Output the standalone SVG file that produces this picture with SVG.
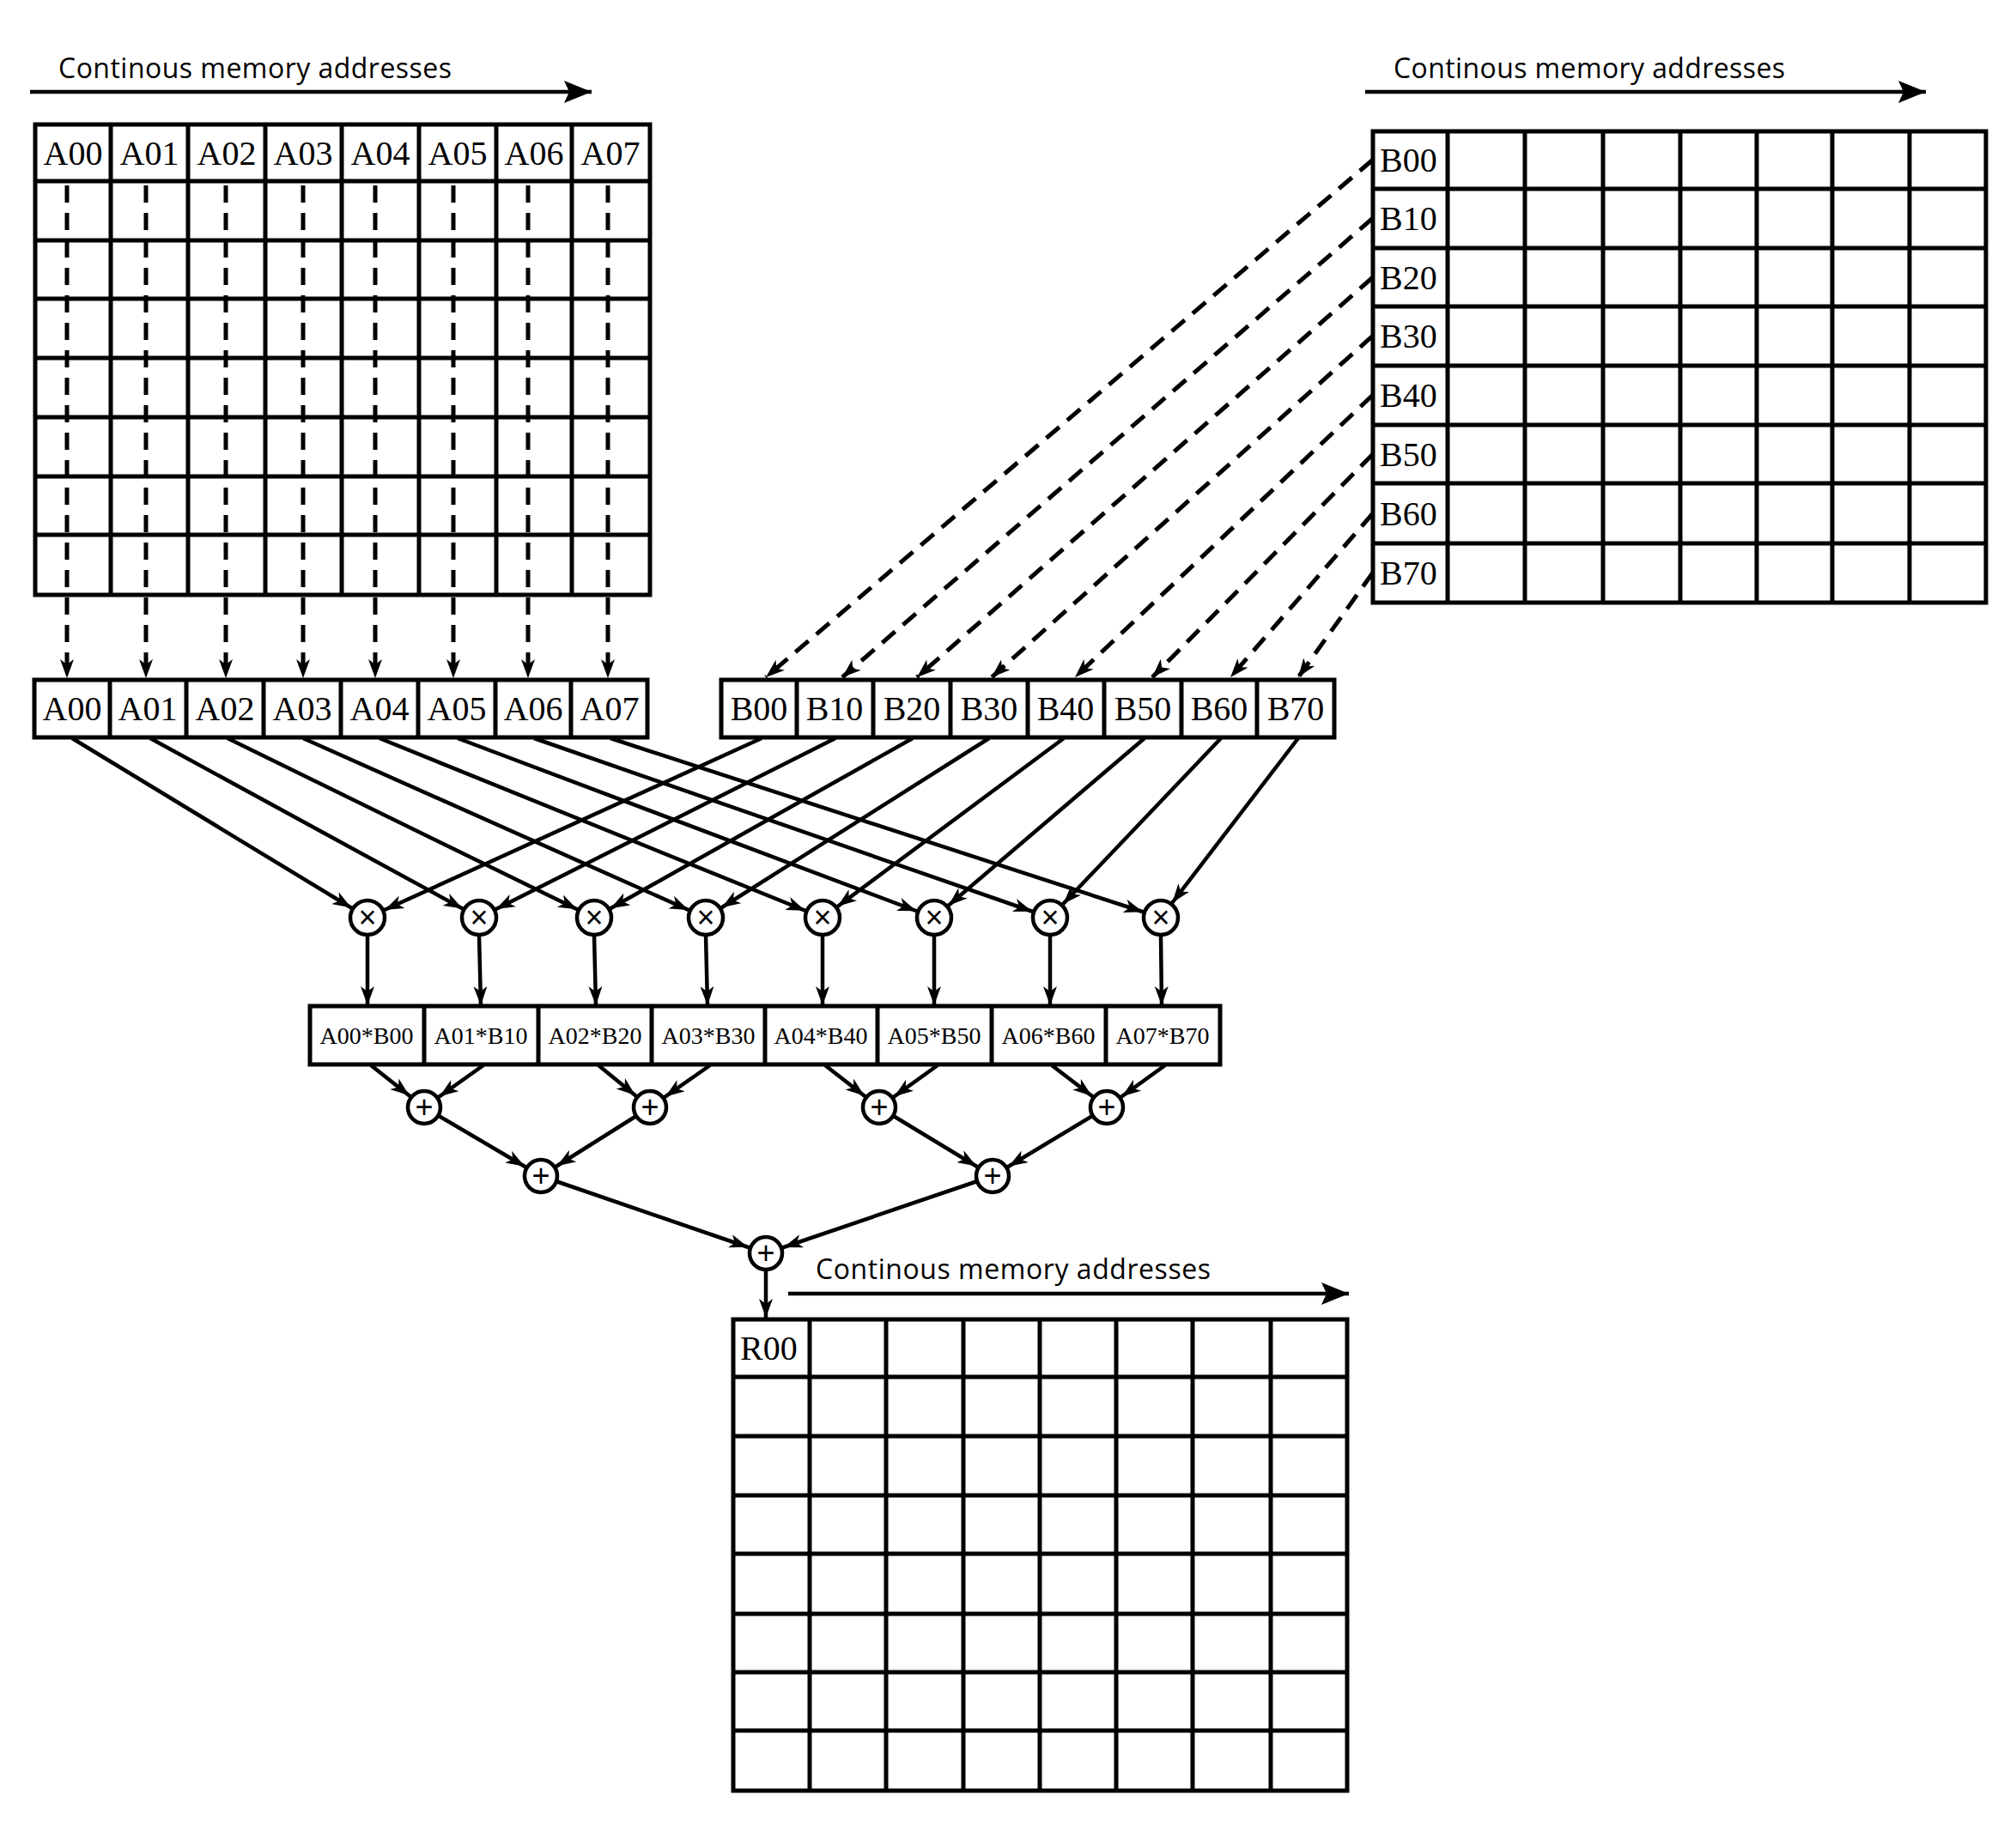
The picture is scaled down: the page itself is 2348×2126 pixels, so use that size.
<svg xmlns="http://www.w3.org/2000/svg" width="2348" height="2126" viewBox="0 0 2348 2126">
<style>
.g{fill:none;stroke:#000;stroke-width:5}
.c{fill:none;stroke:#000;stroke-width:4.5}
.d{fill:none;stroke:#000;stroke-width:5;stroke-dasharray:20 12}
.t{font-family:"Liberation Serif",serif;font-size:40px;fill:#000}
.p{font-family:"Liberation Serif",serif;font-size:28px;fill:#000;text-anchor:middle}
.h{font-family:"Open Sans","Liberation Sans",sans-serif;font-size:32px;fill:#000}
.o{fill:#fff;stroke:#000;stroke-width:4.5}
.s{font-family:"Liberation Sans",sans-serif;font-size:36px;text-anchor:middle;fill:#000}
</style>
<defs>
<marker id="arr" markerUnits="userSpaceOnUse" viewBox="0 0 22 16" markerWidth="22" markerHeight="16" refX="22" refY="8" orient="auto"><path d="M0,0 L22,8 L0,16 L6,8 Z" fill="#000"/></marker>
<marker id="arrC" markerUnits="userSpaceOnUse" viewBox="0 0 44 16" markerWidth="44" markerHeight="16" refX="44" refY="8" orient="auto"><path d="M0,0 L22,8 L0,16 L6,8 Z" fill="#000"/></marker>
<marker id="big" markerUnits="userSpaceOnUse" viewBox="0 0 32 26" markerWidth="32" markerHeight="26" refX="32" refY="13" orient="auto"><path d="M0,0 L32,13 L0,26 L6,13 Z" fill="#000"/></marker>
</defs>

<g id="title-a"><text class="h" x="68" y="91" textLength="458">Continous memory addresses</text><line class="c" x1="35" y1="107" x2="689" y2="107" marker-end="url(#big)"/></g>
<g id="title-b"><text class="h" x="1623" y="91" textLength="456">Continous memory addresses</text><line class="c" x1="1590" y1="107" x2="2243" y2="107" marker-end="url(#big)"/></g>
<g id="title-r"><text class="h" x="950" y="1490" textLength="460">Continous memory addresses</text><line class="c" x1="918" y1="1507" x2="1571" y2="1507" marker-end="url(#big)"/></g>

<g id="matrix-a">
<rect class="g" x="41" y="145" width="716" height="548"/>
<path class="g" d="M129,145V693M219,145V693M309,145V693M398,145V693M488,145V693M578,145V693M666,145V693M41,211H757M41,280H757M41,348H757M41,417H757M41,486H757M41,555H757M41,623H757"/>
<g class="t" text-anchor="middle"><text x="85" y="192">A00</text><text x="174" y="192">A01</text><text x="264" y="192">A02</text><text x="353" y="192">A03</text><text x="443" y="192">A04</text><text x="533" y="192">A05</text><text x="622" y="192">A06</text><text x="711" y="192">A07</text></g>
</g>

<g id="matrix-b">
<rect class="g" x="1599" y="153" width="714" height="549"/>
<path class="g" d="M1686,153V702M1776,153V702M1867,153V702M1957,153V702M2046,153V702M2134,153V702M2224,153V702M1599,220H2313M1599,289H2313M1599,357H2313M1599,426H2313M1599,495H2313M1599,563H2313M1599,633H2313"/>
<g class="t"><text x="1607" y="200">B00</text><text x="1607" y="268">B10</text><text x="1607" y="337">B20</text><text x="1607" y="405">B30</text><text x="1607" y="474">B40</text><text x="1607" y="543">B50</text><text x="1607" y="612">B60</text><text x="1607" y="681">B70</text></g>
</g>

<g id="row-a">
<rect class="g" x="40" y="792" width="714" height="67"/>
<path class="g" d="M128,792V859M217,792V859M307,792V859M397,792V859M487,792V859M577,792V859M665,792V859"/>
<g class="t" text-anchor="middle"><text x="84" y="839">A00</text><text x="172" y="839">A01</text><text x="262" y="839">A02</text><text x="352" y="839">A03</text><text x="442" y="839">A04</text><text x="532" y="839">A05</text><text x="621" y="839">A06</text><text x="710" y="839">A07</text></g>
</g>

<g id="row-b">
<rect class="g" x="840" y="792" width="714" height="67"/>
<path class="g" d="M928,792V859M1017,792V859M1107,792V859M1197,792V859M1286,792V859M1376,792V859M1464,792V859"/>
<g class="t" text-anchor="middle"><text x="884" y="839">B00</text><text x="972" y="839">B10</text><text x="1062" y="839">B20</text><text x="1152" y="839">B30</text><text x="1241" y="839">B40</text><text x="1331" y="839">B50</text><text x="1420" y="839">B60</text><text x="1509" y="839">B70</text></g>
</g>

<g id="connectors">
<g class="d">
<line x1="78" y1="216" x2="78" y2="790" marker-end="url(#arr)"/>
<line x1="170" y1="216" x2="170" y2="790" marker-end="url(#arr)"/>
<line x1="263" y1="216" x2="263" y2="790" marker-end="url(#arr)"/>
<line x1="353" y1="216" x2="353" y2="790" marker-end="url(#arr)"/>
<line x1="437" y1="216" x2="437" y2="790" marker-end="url(#arr)"/>
<line x1="528" y1="216" x2="528" y2="790" marker-end="url(#arr)"/>
<line x1="615" y1="216" x2="615" y2="790" marker-end="url(#arr)"/>
<line x1="708" y1="216" x2="708" y2="790" marker-end="url(#arr)"/>
<line x1="1599" y1="186" x2="892" y2="789" marker-end="url(#arr)"/>
<line x1="1599" y1="254" x2="981" y2="789" marker-end="url(#arr)"/>
<line x1="1599" y1="323" x2="1068" y2="789" marker-end="url(#arr)"/>
<line x1="1599" y1="391" x2="1155" y2="789" marker-end="url(#arr)"/>
<line x1="1599" y1="460" x2="1252" y2="789" marker-end="url(#arr)"/>
<line x1="1599" y1="529" x2="1342" y2="789" marker-end="url(#arr)"/>
<line x1="1599" y1="598" x2="1433" y2="789" marker-end="url(#arr)"/>
<line x1="1599" y1="667" x2="1512" y2="789" marker-end="url(#arr)"/>
</g>
<g class="c">
<line x1="84" y1="860" x2="428" y2="1069" marker-end="url(#arrC)"/>
<line x1="175" y1="860" x2="558" y2="1069" marker-end="url(#arrC)"/>
<line x1="265" y1="860" x2="692" y2="1069" marker-end="url(#arrC)"/>
<line x1="353" y1="860" x2="822" y2="1069" marker-end="url(#arrC)"/>
<line x1="442" y1="860" x2="958" y2="1069" marker-end="url(#arrC)"/>
<line x1="533" y1="860" x2="1088" y2="1069" marker-end="url(#arrC)"/>
<line x1="622" y1="860" x2="1223" y2="1069" marker-end="url(#arrC)"/>
<line x1="711" y1="860" x2="1352" y2="1069" marker-end="url(#arrC)"/>
<line x1="887" y1="860" x2="428" y2="1069" marker-end="url(#arrC)"/>
<line x1="973" y1="860" x2="558" y2="1069" marker-end="url(#arrC)"/>
<line x1="1063" y1="860" x2="692" y2="1069" marker-end="url(#arrC)"/>
<line x1="1152" y1="860" x2="822" y2="1069" marker-end="url(#arrC)"/>
<line x1="1239" y1="860" x2="958" y2="1069" marker-end="url(#arrC)"/>
<line x1="1333" y1="860" x2="1088" y2="1069" marker-end="url(#arrC)"/>
<line x1="1422" y1="860" x2="1223" y2="1069" marker-end="url(#arrC)"/>
<line x1="1512" y1="860" x2="1352" y2="1069" marker-end="url(#arrC)"/>
<line x1="428" y1="1089" x2="428" y2="1171" marker-end="url(#arr)"/>
<line x1="558" y1="1089" x2="560" y2="1171" marker-end="url(#arr)"/>
<line x1="692" y1="1089" x2="694" y2="1171" marker-end="url(#arr)"/>
<line x1="822" y1="1089" x2="824" y2="1171" marker-end="url(#arr)"/>
<line x1="958" y1="1089" x2="958" y2="1171" marker-end="url(#arr)"/>
<line x1="1088" y1="1089" x2="1088" y2="1171" marker-end="url(#arr)"/>
<line x1="1223" y1="1089" x2="1223" y2="1171" marker-end="url(#arr)"/>
<line x1="1352" y1="1089" x2="1353" y2="1171" marker-end="url(#arr)"/>
<line x1="432" y1="1241" x2="494" y2="1290" marker-end="url(#arrC)"/>
<line x1="563" y1="1241" x2="494" y2="1290" marker-end="url(#arrC)"/>
<line x1="697" y1="1241" x2="757" y2="1290" marker-end="url(#arrC)"/>
<line x1="827" y1="1241" x2="757" y2="1290" marker-end="url(#arrC)"/>
<line x1="961" y1="1241" x2="1024" y2="1290" marker-end="url(#arrC)"/>
<line x1="1092" y1="1241" x2="1024" y2="1290" marker-end="url(#arrC)"/>
<line x1="1225" y1="1241" x2="1289" y2="1290" marker-end="url(#arrC)"/>
<line x1="1357" y1="1241" x2="1289" y2="1290" marker-end="url(#arrC)"/>
<line x1="494" y1="1290" x2="630" y2="1370" marker-end="url(#arrC)"/>
<line x1="757" y1="1290" x2="630" y2="1370" marker-end="url(#arrC)"/>
<line x1="1024" y1="1290" x2="1156" y2="1370" marker-end="url(#arrC)"/>
<line x1="1289" y1="1290" x2="1156" y2="1370" marker-end="url(#arrC)"/>
<line x1="630" y1="1370" x2="892" y2="1460" marker-end="url(#arrC)"/>
<line x1="1156" y1="1370" x2="892" y2="1460" marker-end="url(#arrC)"/>
<line x1="892" y1="1480" x2="892" y2="1535" marker-end="url(#arr)"/>
</g>
</g>

<g id="multipliers">
<circle class="o" cx="428" cy="1069" r="20"/><circle class="o" cx="558" cy="1069" r="20"/><circle class="o" cx="692" cy="1069" r="20"/><circle class="o" cx="822" cy="1069" r="20"/><circle class="o" cx="958" cy="1069" r="20"/><circle class="o" cx="1088" cy="1069" r="20"/><circle class="o" cx="1223" cy="1069" r="20"/><circle class="o" cx="1352" cy="1069" r="20"/>
<g class="s"><text x="428" y="1081">×</text><text x="558" y="1081">×</text><text x="692" y="1081">×</text><text x="822" y="1081">×</text><text x="958" y="1081">×</text><text x="1088" y="1081">×</text><text x="1223" y="1081">×</text><text x="1352" y="1081">×</text></g>
</g>

<g id="products">
<rect class="g" x="361" y="1172" width="1060" height="68"/>
<path class="g" d="M494,1172V1240M627,1172V1240M759,1172V1240M891,1172V1240M1022,1172V1240M1155,1172V1240M1288,1172V1240"/>
<text class="p" x="427" y="1216">A00*B00</text><text class="p" x="560" y="1216">A01*B10</text><text class="p" x="693" y="1216">A02*B20</text><text class="p" x="825" y="1216">A03*B30</text><text class="p" x="956" y="1216">A04*B40</text><text class="p" x="1088" y="1216">A05*B50</text><text class="p" x="1221" y="1216">A06*B60</text><text class="p" x="1354" y="1216">A07*B70</text>
</g>

<g id="adders">
<circle class="o" cx="494" cy="1290" r="19"/><circle class="o" cx="757" cy="1290" r="19"/><circle class="o" cx="1024" cy="1290" r="19"/><circle class="o" cx="1289" cy="1290" r="19"/>
<circle class="o" cx="630" cy="1370" r="19"/><circle class="o" cx="1156" cy="1370" r="19"/>
<circle class="o" cx="892" cy="1460" r="19"/>
<g class="s"><text x="494" y="1302">+</text><text x="757" y="1302">+</text><text x="1024" y="1302">+</text><text x="1289" y="1302">+</text><text x="630" y="1382">+</text><text x="1156" y="1382">+</text><text x="892" y="1472">+</text></g>
</g>

<g id="matrix-r">
<rect class="g" x="854" y="1537" width="715" height="549"/>
<path class="g" d="M943,1537V2086M1032,1537V2086M1122,1537V2086M1211,1537V2086M1300,1537V2086M1389,1537V2086M1480,1537V2086M854,1604H1569M854,1673H1569M854,1742H1569M854,1810H1569M854,1880H1569M854,1948H1569M854,2016H1569"/>
<text class="t" x="862" y="1584">R00</text>
</g>
</svg>
